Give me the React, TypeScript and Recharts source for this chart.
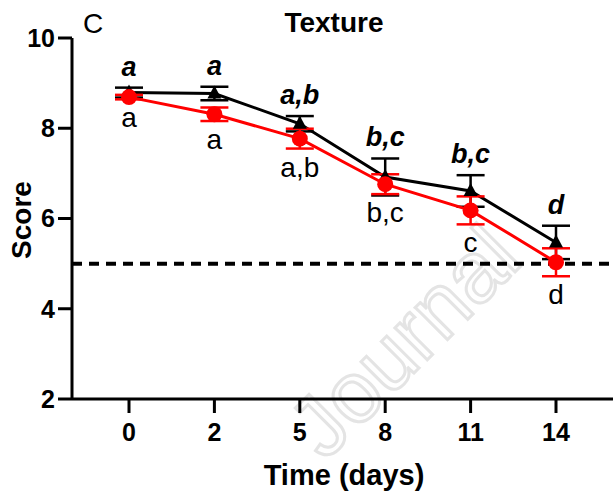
import React from 'react';
import { LineChart, Line, XAxis, YAxis, ErrorBar, ReferenceLine, LabelList } from 'recharts';

const days = ['0', '2', '5', '8', '11', '14'];
const controlScore = [8.79, 8.77, 8.1, 6.92, 6.61, 5.47];
const controlErr = [0.11, 0.15, 0.17, 0.41, 0.35, 0.37];
const treatedScore = [8.69, 8.31, 7.77, 6.76, 6.18, 5.03];
const treatedErr = [0.05, 0.15, 0.22, 0.22, 0.31, 0.31];
const controlLetters = ['a', 'a', 'a,b', 'b,c', 'b,c', 'd'];
const treatedLetters = ['a', 'a', 'a,b', 'b,c', 'c', 'd'];
const yTicks = [2, 4, 6, 8, 10];
const limit = 5;

const data = days.map((d, i) => ({
  day: d,
  control: controlScore[i],
  controlErr: controlErr[i],
  controlTop: controlScore[i] + controlErr[i],
  controlLetter: controlLetters[i],
  treated: treatedScore[i],
  treatedErr: treatedErr[i],
  treatedBottom: treatedScore[i] - treatedErr[i],
  treatedLetter: treatedLetters[i],
}));

const font = '"Liberation Sans", Arial, sans-serif';

const Triangle = (props: any) => {
  const { cx, cy, index } = props;
  if (cx == null || cy == null) return <g key={`t-${index}`} />;
  return <path key={`t-${index}`} d={`M${cx},${cy - 8} L${cx + 7},${cy + 5} L${cx - 7},${cy + 5} Z`} fill="#000" />;
};

const pos = (p: any) => ({
  x: p.x ?? p.viewBox?.x,
  y: p.y ?? p.viewBox?.y,
});

const TopLetter = (p: any) => {
  const { x, y } = pos(p);
  return (
    <text x={x} y={y - 12} textAnchor="middle" fontFamily={font} fontSize={27} fontWeight="bold" fontStyle="italic" fill="#000">
      {p.value}
    </text>
  );
};

const BottomLetter = (p: any) => {
  const { x, y } = pos(p);
  return (
    <text x={x} y={y + 28} textAnchor="middle" fontFamily={font} fontSize={28} fill="#000">
      {p.value}
    </text>
  );
};

export default function App() {
  return (
    <div style={{ position: 'absolute', left: 0, top: 0, width: 613, height: 498, background: '#fff' }}>
      <svg width={613} height={498} style={{ position: 'absolute', left: 0, top: 0 }}>
        <text x={325} y={462} transform="rotate(-45 325 462)" fontFamily={font} fontSize={86} fill="none" stroke="#e4e4e4" strokeWidth={3}>
          Journal
        </text>
      </svg>
      <div style={{ position: 'absolute', left: 0, top: 0 }}>
        <LineChart width={613} height={498} data={data} margin={{ top: 38, right: 0, bottom: 0, left: 0 }}>
          <XAxis
            dataKey="day"
            height={99}
            padding={{ left: 57, right: 57 }}
            axisLine={{ stroke: '#000', strokeWidth: 3 }}
            tickLine={{ stroke: '#000', strokeWidth: 3 }}
            tickSize={14}
            tickMargin={10}
            tick={{ fill: '#000', fontSize: 25, fontWeight: 'bold', fontFamily: font }}
          />
          <YAxis
            width={72}
            domain={[2, 10]}
            ticks={yTicks}
            allowDataOverflow
            axisLine={{ stroke: '#000', strokeWidth: 3 }}
            tickLine={{ stroke: '#000', strokeWidth: 3 }}
            tickSize={14}
            tickMargin={3}
            tick={{ fill: '#000', fontSize: 25, fontWeight: 'bold', fontFamily: font }}
          />
          <ReferenceLine y={limit} stroke="#000" strokeWidth={4} strokeDasharray="10 7" />
          <Line dataKey="controlTop" stroke="none" dot={false} activeDot={false} isAnimationActive={false}>
            <LabelList dataKey="controlLetter" content={TopLetter} />
          </Line>
          <Line dataKey="treatedBottom" stroke="none" dot={false} activeDot={false} isAnimationActive={false}>
            <LabelList dataKey="treatedLetter" content={BottomLetter} />
          </Line>
          <Line dataKey="control" stroke="#000" strokeWidth={3} dot={Triangle} activeDot={false} isAnimationActive={false}>
            <ErrorBar dataKey="controlErr" width={14} stroke="#000" strokeWidth={2.5} direction="y" />
          </Line>
          <Line dataKey="treated" stroke="#ff0000" strokeWidth={3} dot={{ r: 8, fill: '#ff0000', stroke: '#ff0000', strokeWidth: 0 }} activeDot={false} isAnimationActive={false}>
            <ErrorBar dataKey="treatedErr" width={14} stroke="#ff0000" strokeWidth={2.5} direction="y" />
          </Line>
        </LineChart>
      </div>
      <svg width={613} height={498} style={{ position: 'absolute', left: 0, top: 0, pointerEvents: 'none' }}>
        <text x={83} y={33} fontFamily={font} fontSize={28} fill="#000">C</text>
        <text x={334} y={32} textAnchor="middle" fontFamily={font} fontSize={28} fontWeight="bold" fill="#000">Texture</text>
        <text x={31} y={220} transform="rotate(-90 31 220)" textAnchor="middle" fontFamily={font} fontSize={28} fontWeight="bold" fill="#000">Score</text>
        <text x={344} y={485} textAnchor="middle" fontFamily={font} fontSize={29} fontWeight="bold" fill="#000">Time (days)</text>
      </svg>
    </div>
  );
}
